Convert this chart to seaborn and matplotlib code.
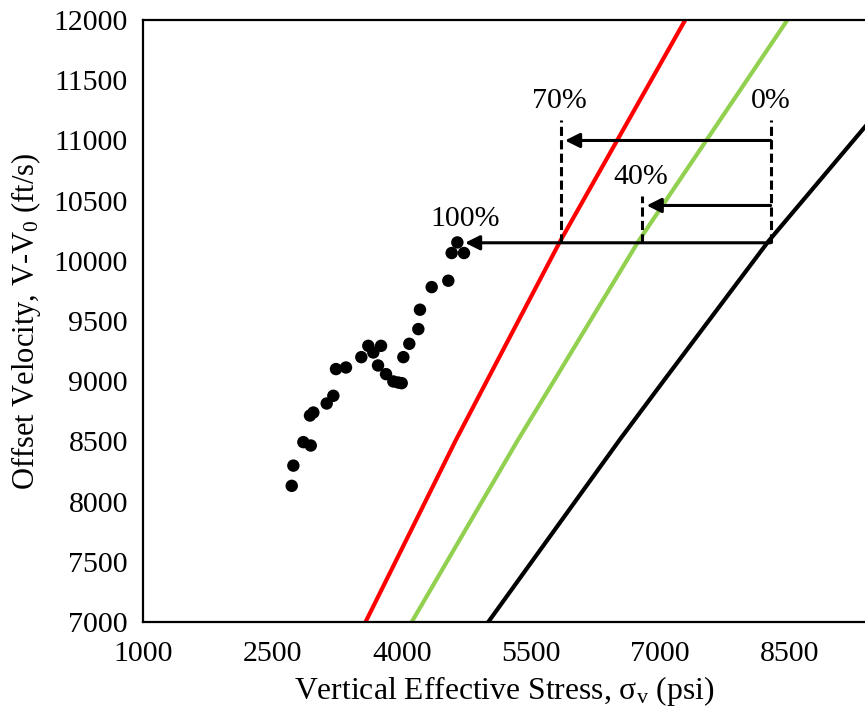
import matplotlib
matplotlib.use("Agg")
import matplotlib.pyplot as plt
import seaborn as sns
import pandas as pd
from matplotlib.patches import FancyArrowPatch

# ---- data ----
curve_y = [7000, 8513, 9012, 10161, 12000]
red_x = [3580, 4630, 4995, 5838, 7291]
green_x = [4116, 5350, 5775, 6747, 8477]
black_y = [7000, 8513, 9012, 10161, 11115, 11170]
black_x = [5005, 6530, 7050, 8256, 9381, 9450]

pts_x = [2723, 2742, 2858, 2944, 2935, 2974, 3129, 3206, 3237, 3353, 3531, 3612,
         3670, 3760, 3725, 3818, 3903, 4000, 3961, 4019, 4088, 4193, 4212, 4348,
         4541, 4646, 4580, 4723]
pts_y = [8131, 8299, 8494, 8466, 8715, 8740, 8815, 8879, 9101, 9114, 9200, 9294,
         9239, 9294, 9131, 9059, 8998, 8984, 8989, 9200, 9311, 9433, 9594, 9782,
         9835, 10153, 10065, 10065]

arrow_labels = ["70%", "40%", "100%"]
arrow_y = [11000, 10460, 10150]
arrow_start_x = [8284, 8284, 8284]
arrow_end_x = [5896, 6844, 4735]

dash_labels = ["0%", "70%", "40%"]
dash_x = [8284, 5846, 6793]
dash_top = [11167, 11167, 10536]
dash_bottom = [10150, 10150, 10150]

text_labels = ["0%", "70%", "40%", "100%"]
text_x = [8284, 5826, 6775, 4735]
text_y = [11325, 11325, 10697, 10348]

x_ticks = [1000, 2500, 4000, 5500, 7000, 8500]
y_ticks = list(range(7000, 12001, 500))

# ---- style ----
sns.set_style("white")
plt.rcParams["font.family"] = ["Liberation Serif", "DejaVu Serif"]
plt.rcParams["mathtext.fontset"] = "custom"
plt.rcParams["mathtext.rm"] = "Liberation Serif"
plt.rcParams["mathtext.it"] = "Liberation Serif:italic"
plt.rcParams["text.color"] = "black"
plt.rcParams["axes.labelcolor"] = "black"
plt.rcParams["xtick.color"] = "black"
plt.rcParams["ytick.color"] = "black"

fig = plt.figure(figsize=(8.65, 7.17), dpi=100)
ax = fig.add_axes([0.1657, 0.1325, 1 - 0.1657, 0.972 - 0.1325])

df_red = pd.DataFrame({"x": red_x, "y": curve_y})
df_green = pd.DataFrame({"x": green_x, "y": curve_y})
df_black = pd.DataFrame({"x": black_x, "y": black_y})
df_pts = pd.DataFrame({"x": pts_x, "y": pts_y})

sns.lineplot(data=df_red, x="x", y="y", sort=False, estimator=None, color="#FF0000", lw=3, ax=ax)
sns.lineplot(data=df_green, x="x", y="y", sort=False, estimator=None, color="#92D050", lw=3, ax=ax)
sns.lineplot(data=df_black, x="x", y="y", sort=False, estimator=None, color="black", lw=3, ax=ax)
sns.scatterplot(data=df_pts, x="x", y="y", color="black", s=80, edgecolor="none", ax=ax, zorder=4)

for xs, xe, yy in zip(arrow_start_x, arrow_end_x, arrow_y):
    ar = FancyArrowPatch((xs, yy), (xe, yy), arrowstyle="-|>", mutation_scale=22,
                         color="black", lw=2.2, shrinkA=0, shrinkB=0, zorder=5)
    ax.add_patch(ar)

for xx, yt, yb in zip(dash_x, dash_top, dash_bottom):
    ax.plot([xx, xx], [yb, yt], color="black", lw=2.2, ls=(0, (3, 1.4)), zorder=5)

for t, xx, yy in zip(text_labels, text_x, text_y):
    ax.text(xx, yy, t, fontsize=21.5, ha="center", va="center", color="black", zorder=6)

ax.set_xlim(1000, 9379)
ax.set_ylim(7000, 12000)
ax.set_xticks(x_ticks)
ax.set_yticks(y_ticks)
ax.tick_params(axis="x", direction="in", length=5, width=1.3, labelsize=21.5, pad=14)
ax.tick_params(axis="y", length=0, labelsize=21.5, pad=11)

for s in ["left", "bottom", "top"]:
    ax.spines[s].set_visible(True)
    ax.spines[s].set_linewidth(1.6)
    ax.spines[s].set_color("black")
ax.spines["right"].set_visible(False)

ax.set_xlabel("Vertical Effective Stress, σ$_\\mathrm{v}$ (psi)", fontsize=22.8, labelpad=5)
ax.set_ylabel("Offset Velocity, V-V$_\\mathrm{0}$ (ft/s)", fontsize=22, labelpad=8)

fig.savefig("out.png", dpi=100)
